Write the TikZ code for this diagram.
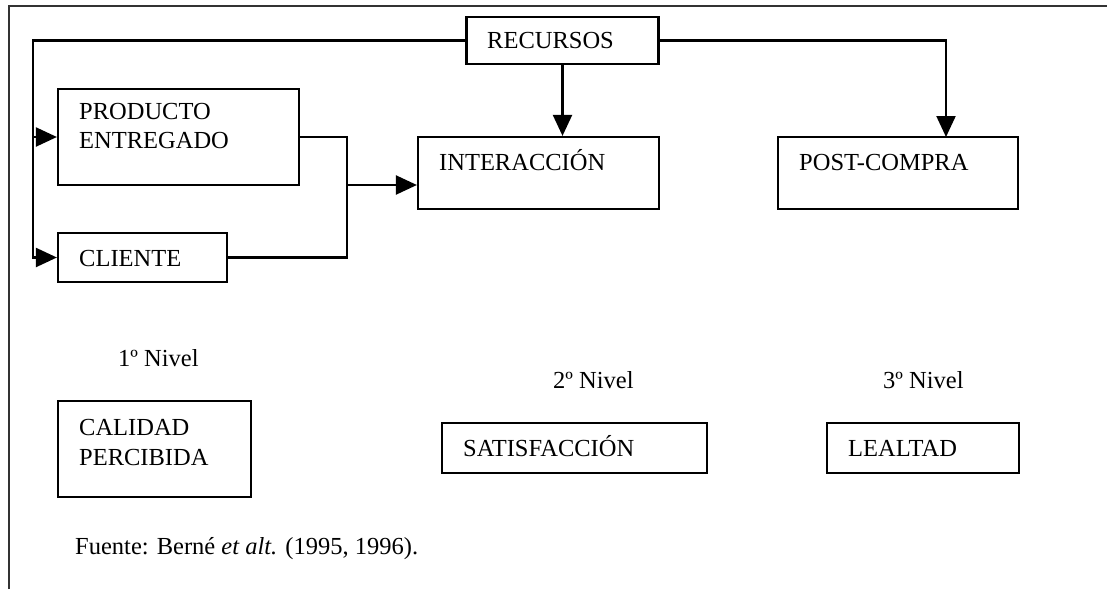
\documentclass[tikz,border=0pt]{standalone}
\usepackage{fontspec}
\setmainfont{Liberation Serif}
\usetikzlibrary{arrows.meta}
\begin{document}
\begin{tikzpicture}[x=1pt,y=-1pt,
  box/.style={draw, line width=2.2pt, inner sep=0pt},
  txt/.style={anchor=base west, inner sep=0pt, font=\fontsize{24.5}{28}\selectfont},
  conn/.style={line width=2.2pt},
  arr/.style={line width=2.2pt, -{Triangle[length=21pt,width=19pt]}},
  frame/.style={line width=2.2pt, black!80}]
\useasboundingbox (0,0) rectangle (1107,589);
% frame
\draw[frame] (9,589) -- (9,6) -- (1107,6);
% boxes
\node[box, minimum width=192pt, minimum height=47pt] (rec) at (562.5,40.5) {};
\node[box, minimum width=241pt, minimum height=96pt] (prod) at (178.5,137) {};
\node[box, minimum width=169pt, minimum height=49pt] (cli) at (142.5,257.5) {};
\node[box, minimum width=241pt, minimum height=72pt] (inter) at (538.5,173) {};
\node[box, minimum width=240pt, minimum height=72pt] (post) at (898,173) {};
\node[box, minimum width=193pt, minimum height=96pt] (cal) at (154.5,449) {};
\node[box, minimum width=265pt, minimum height=50pt] (sat) at (574.5,448) {};
\node[box, minimum width=192pt, minimum height=50pt] (leal) at (923,448) {};
% texts
\node[txt] (trec) at (487,48) {RECURSOS};
\node[txt] (tprod1) at (79,119) {PRODUCTO};
\node[txt] (tprod2) at (79,148) {ENTREGADO};
\node[txt] (tcli) at (79,266) {CLIENTE};
\node[txt] (tinter) at (439,170) {INTERACCIÓN};
\node[txt] (tpost) at (799,170) {POST-COMPRA};
\node[txt] (n1) at (118,366) {1º Nivel};
\node[txt] (n2) at (553,388) {2º Nivel};
\node[txt] (n3) at (883,388) {3º Nivel};
\node[txt] (tcal1) at (79,435) {CALIDAD};
\node[txt] (tcal2) at (79,465) {PERCIBIDA};
\node[txt] (tsat) at (463,456) {SATISFACCIÓN};
\node[txt] (tleal) at (848,456) {LEALTAD};
\node[txt] (fuente) at (75,554) {Fuente: Berné {\itshape et alt.} (1995, 1996).};
% connectors
\coordinate (lft) at (33,40.5);
\coordinate (j) at (347,185);
\coordinate (postin) at (946,137);
\draw[arr] (rec.west) -- (lft) |- (cli.west);
\draw[arr] (lft |- prod.west) -- (prod.west);
\draw[conn] (prod.east) -| (j |- cli.east) -- (cli.east);
\draw[arr] (j) -- (inter.west |- j);
\draw[arr] (rec.south) -- (rec.south |- inter.north);
\draw[arr] (rec.east) -| (postin);
\end{tikzpicture}
\end{document}
